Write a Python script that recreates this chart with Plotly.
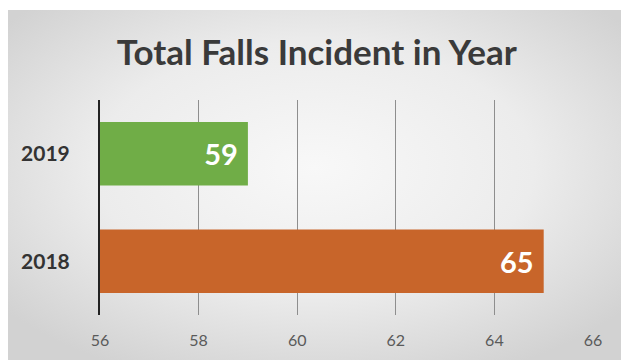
import plotly.graph_objects as go
import base64

years = ["2018", "2019"]
falls = [65, 59]
bar_colors = ["#C8652A", "#70AD47"]
x_ticks = [56, 58, 60, 62, 64, 66]

W, H = 621, 360
L, R, T, B = 100, 28, 100, 45
pw, ph = W - L - R, H - T - B

svg = (
    '<svg xmlns="http://www.w3.org/2000/svg" width="613" height="350" viewBox="0 0 613 350" preserveAspectRatio="none">'
    '<defs><radialGradient id="g" cx="50%" cy="45%" r="65%">'
    '<stop offset="0%" stop-color="#f8f8f8"/><stop offset="55%" stop-color="#ececec"/>'
    '<stop offset="100%" stop-color="#d2d2d2"/></radialGradient></defs>'
    '<rect width="613" height="350" fill="url(#g)"/></svg>'
)
src = "data:image/svg+xml;base64," + base64.b64encode(svg.encode()).decode()

fig = go.Figure(
    go.Bar(
        y=years,
        x=falls,
        orientation="h",
        marker=dict(color=bar_colors, line=dict(width=0)),
        width=0.59,
        text=[str(v) + "\u00a0" for v in falls],
        textposition="inside",
        insidetextanchor="end",
        textfont=dict(family="Lato", size=29, color="white", weight="bold"),
        cliponaxis=False,
    )
)

fig.update_layout(
    width=W,
    height=H,
    margin=dict(l=L, r=R, t=T, b=B),
    paper_bgcolor="white",
    plot_bgcolor="rgba(0,0,0,0)",
    showlegend=False,
    title=dict(
        text="<b>Total Falls Incident in Year</b>",
        x=0.51,
        xanchor="center",
        y=(H - 53) / H,
        yanchor="middle",
        font=dict(family="Lato", size=35, color="#3a3a3a"),
    ),
    xaxis=dict(
        range=[56, 66],
        tickvals=x_ticks,
        showgrid=True,
        gridcolor="#8e8e8e",
        gridwidth=1,
        zeroline=False,
        showline=False,
        ticks="",
        ticklabelstandoff=14,
        tickfont=dict(family="Lato", size=16, color="#5a5a5a"),
    ),
    yaxis=dict(
        categoryorder="array",
        categoryarray=years,
        range=[-0.5, 1.5],
        showgrid=False,
        showline=True,
        linecolor="#222222",
        linewidth=2,
        ticks="",
        ticklabelstandoff=24,
        tickfont=dict(family="Lato", size=21, color="#333333", weight="bold"),
    ),
    images=[
        dict(
            source=src,
            xref="paper",
            yref="paper",
            x=(8 - L) / pw,
            y=(H - B - 10) / ph,
            sizex=(W - 8) / pw,
            sizey=(H - 10) / ph,
            xanchor="left",
            yanchor="top",
            sizing="stretch",
            layer="below",
        )
    ],
)

fig.write_html("out.html")
